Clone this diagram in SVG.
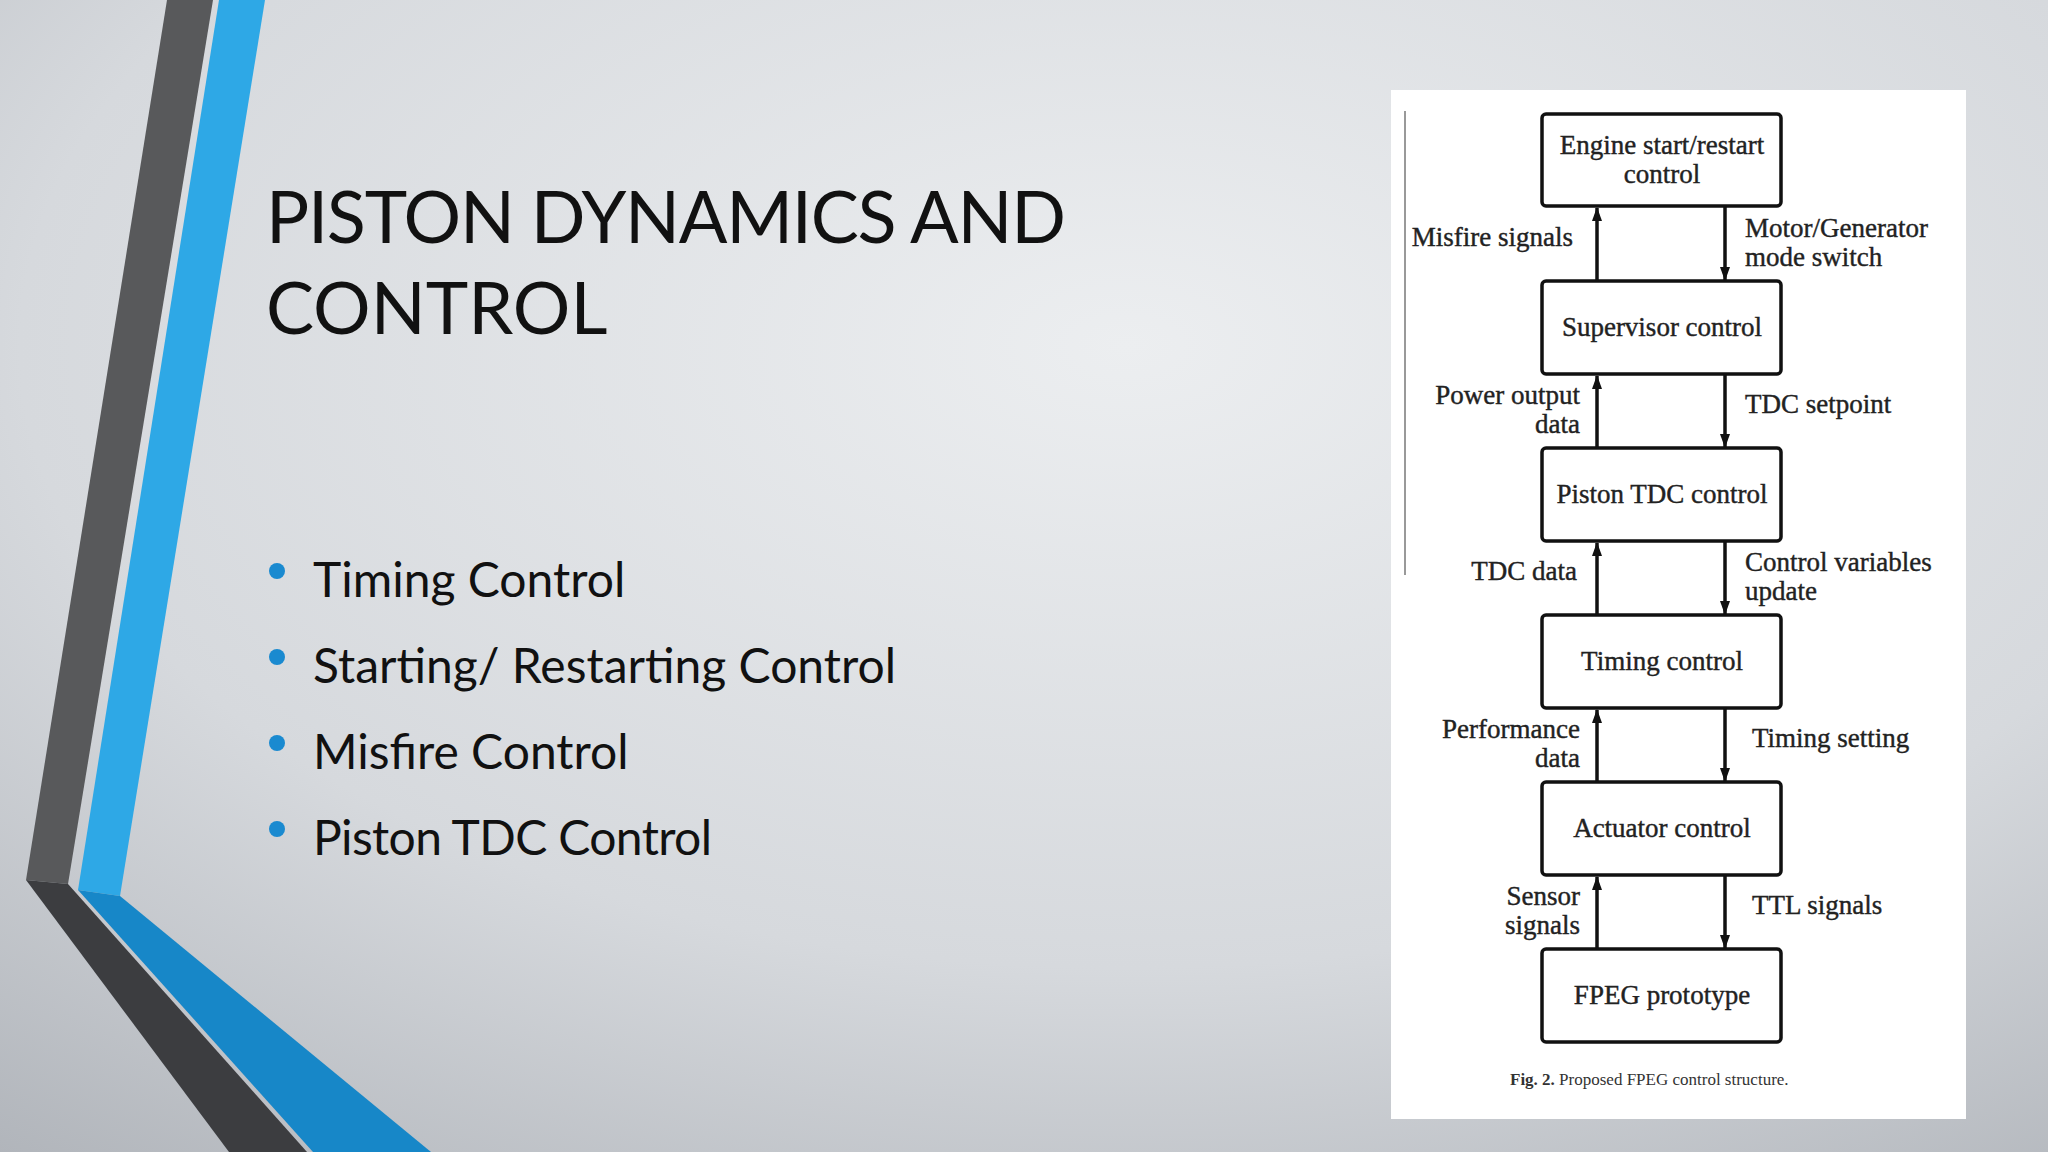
<svg xmlns="http://www.w3.org/2000/svg" width="2048" height="1152" viewBox="0 0 2048 1152">
<defs>
<radialGradient id="bg" cx="0.55" cy="0.3" r="0.9">
<stop offset="0" stop-color="#eceef0"/><stop offset="0.6" stop-color="#d6d9dd"/><stop offset="1" stop-color="#b0b4ba"/>
</radialGradient>
<marker id="ah" viewBox="0 0 14 10" refX="13" refY="5" markerWidth="14" markerHeight="10" orient="auto" markerUnits="userSpaceOnUse"><path d="M0,0 L14,5 L0,10 z" fill="#111"/></marker>
<style>
.box{fill:#fff;stroke:#111;stroke-width:3.5}
.t{font-family:"Liberation Serif",serif;font-size:27px;fill:#222;stroke:#222;stroke-width:0.4}
.c{stroke:#111;stroke-width:3.5;fill:none}
.b{font-family:"Lato","Liberation Sans",sans-serif;font-size:48px;fill:#111}
</style>
</defs>
<rect width="2048" height="1152" fill="url(#bg)"/>
<polygon points="167,0 213,0 68,884 26,880" fill="#58595b"/>
<polygon points="26,880 68,884 307,1152 229,1152" fill="#3c3d40"/>
<polygon points="219,0 265,0 120,896 78,890" fill="#2ea8e6"/>
<polygon points="78,890 120,896 431,1152 313,1152" fill="#1787c8"/>
<text x="266" y="243" font-family="Lato,'Liberation Sans',sans-serif" font-size="72" fill="#111" textLength="800">PISTON DYNAMICS AND</text>
<text x="266" y="334" font-family="Lato,'Liberation Sans',sans-serif" font-size="72" fill="#111">CONTROL</text>
<g fill="#1a8ad0"><circle cx="277" cy="571" r="8"/><circle cx="277" cy="657" r="8"/><circle cx="277" cy="743" r="8"/><circle cx="277" cy="829" r="8"/></g>
<text class="b" x="313" y="597">Timing Control</text>
<text class="b" x="313" y="683">Starting/ Restarting Control</text>
<text class="b" x="313" y="769">Misfire Control</text>
<text class="b" x="313" y="855" textLength="399">Piston TDC Control</text>
<rect x="1391" y="90" width="575" height="1029" fill="#fff"/>
<line x1="1405" y1="111" x2="1405" y2="575" stroke="#999" stroke-width="2"/>
<g id="n1"><rect class="box" x="1542" y="114" width="239" height="92" rx="4"/><text class="t" x="1662" y="154" text-anchor="middle">Engine start/restart</text><text class="t" x="1662" y="183" text-anchor="middle">control</text></g>
<g id="n2"><rect class="box" x="1542" y="281" width="239" height="93" rx="4"/><text class="t" x="1662" y="336" text-anchor="middle">Supervisor control</text></g>
<g id="n3"><rect class="box" x="1542" y="448" width="239" height="93" rx="4"/><text class="t" x="1662" y="503" text-anchor="middle">Piston TDC control</text></g>
<g id="n4"><rect class="box" x="1542" y="615" width="239" height="93" rx="4"/><text class="t" x="1662" y="670" text-anchor="middle">Timing control</text></g>
<g id="n5"><rect class="box" x="1542" y="782" width="239" height="93" rx="4"/><text class="t" x="1662" y="837" text-anchor="middle">Actuator control</text></g>
<g id="n6"><rect class="box" x="1542" y="949" width="239" height="93" rx="4"/><text class="t" x="1662" y="1004" text-anchor="middle">FPEG prototype</text></g>
<g id="connectors">
<line class="c" x1="1597" y1="281" x2="1597" y2="208" marker-end="url(#ah)"/>
<line class="c" x1="1725" y1="206" x2="1725" y2="280" marker-end="url(#ah)"/>
<line class="c" x1="1597" y1="448" x2="1597" y2="376" marker-end="url(#ah)"/>
<line class="c" x1="1725" y1="374" x2="1725" y2="447" marker-end="url(#ah)"/>
<line class="c" x1="1597" y1="615" x2="1597" y2="543" marker-end="url(#ah)"/>
<line class="c" x1="1725" y1="541" x2="1725" y2="614" marker-end="url(#ah)"/>
<line class="c" x1="1597" y1="782" x2="1597" y2="710" marker-end="url(#ah)"/>
<line class="c" x1="1725" y1="708" x2="1725" y2="781" marker-end="url(#ah)"/>
<line class="c" x1="1597" y1="949" x2="1597" y2="877" marker-end="url(#ah)"/>
<line class="c" x1="1725" y1="875" x2="1725" y2="948" marker-end="url(#ah)"/>
</g>
<g>
<text class="t" x="1573" y="246" text-anchor="end">Misfire signals</text>
<text class="t" x="1745" y="237">Motor/Generator</text><text class="t" x="1745" y="266">mode switch</text>
<text class="t" x="1580" y="404" text-anchor="end">Power output</text><text class="t" x="1580" y="433" text-anchor="end">data</text>
<text class="t" x="1745" y="413">TDC setpoint</text>
<text class="t" x="1577" y="580" text-anchor="end">TDC data</text>
<text class="t" x="1745" y="571">Control variables</text><text class="t" x="1745" y="600">update</text>
<text class="t" x="1580" y="738" text-anchor="end">Performance</text><text class="t" x="1580" y="767" text-anchor="end">data</text>
<text class="t" x="1752" y="747">Timing setting</text>
<text class="t" x="1580" y="905" text-anchor="end">Sensor</text><text class="t" x="1580" y="934" text-anchor="end">signals</text>
<text class="t" x="1752" y="914">TTL signals</text>
</g>
<text x="1510" y="1085" font-family="'Liberation Serif',serif" font-size="17" fill="#333"><tspan font-weight="bold">Fig. 2.</tspan>  Proposed FPEG control structure.</text>
</svg>
